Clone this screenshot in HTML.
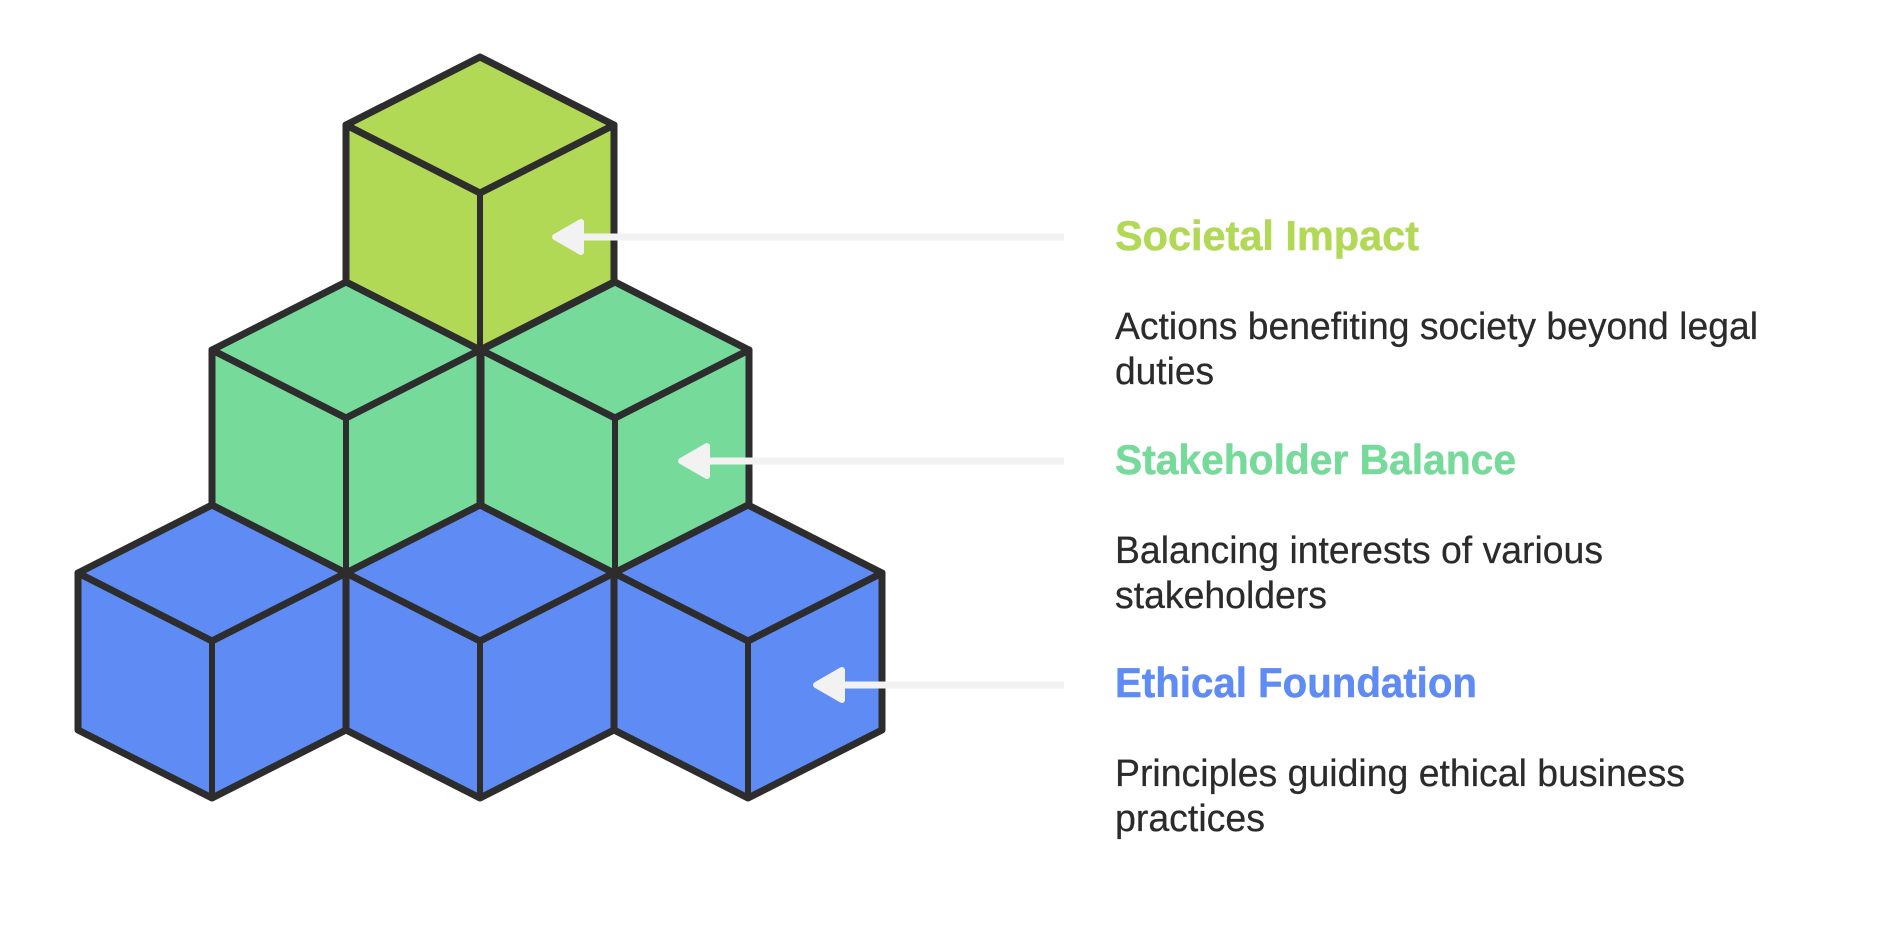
<!DOCTYPE html>
<html>
<head>
<meta charset="utf-8">
<style>
html,body{margin:0;padding:0;background:#fff;width:1902px;height:946px;overflow:hidden}
svg{display:block}
.h{font-family:"Liberation Sans",sans-serif;font-weight:700;font-size:42px;stroke-width:.5px}
.b{font-family:"Liberation Sans",sans-serif;font-weight:400;font-size:38px;fill:#2b2b2b;stroke:#2b2b2b;stroke-width:.25px}
.c{stroke:#2d2d2d;stroke-width:7;stroke-linejoin:round;stroke-linecap:round}
.v{stroke-width:6}
.a{fill:#f2f2f2;stroke:#f2f2f2;stroke-width:6;stroke-linejoin:round}
</style>
</head>
<body>
<svg width="1902" height="946" viewBox="0 0 1902 946" xmlns="http://www.w3.org/2000/svg">
<defs>
<g id="cube">
<path d="M0 0L134 68V225L0 293L-134 225V68Z"/>
<path d="M-134 68L0 136L134 68" fill="none"/>
<path class="v" d="M0 136V293" fill="none"/>
</g>
</defs>
<rect width="1902" height="946" fill="#fff"/>

<g class="c" fill="#b1d955"><use href="#cube" x="480" y="57"/></g>
<g class="c" fill="#75da9a">
<use href="#cube" x="346" y="282"/>
<use href="#cube" x="615" y="282"/>
</g>
<g class="c" fill="#5e8cf4">
<use href="#cube" x="212" y="505"/>
<use href="#cube" x="480" y="505"/>
<use href="#cube" x="748" y="505"/>
</g>

<g>
<rect x="575" y="233.5" width="489" height="7" fill="#f2f2f2"/>
<polygon class="a" points="555,237 581,222 581,252"/>
<rect x="700" y="457.5" width="364" height="7" fill="#f2f2f2"/>
<polygon class="a" points="681,461 707,446 707,476"/>
<rect x="835" y="681.5" width="229" height="7" fill="#f2f2f2"/>
<polygon class="a" points="816,685 842,670 842,700"/>
</g>

<text class="h" x="1115" y="250" fill="#b1d955" stroke="#b1d955" textLength="304" lengthAdjust="spacingAndGlyphs">Societal Impact</text>
<text class="b" x="1115" y="339" textLength="643" lengthAdjust="spacingAndGlyphs">Actions benefiting society beyond legal</text>
<text class="b" x="1115" y="384" textLength="99" lengthAdjust="spacingAndGlyphs">duties</text>

<text class="h" x="1115" y="474" fill="#75da9a" stroke="#75da9a" textLength="401" lengthAdjust="spacingAndGlyphs">Stakeholder Balance</text>
<text class="b" x="1115" y="563" textLength="488" lengthAdjust="spacingAndGlyphs">Balancing interests of various</text>
<text class="b" x="1115" y="608" textLength="212" lengthAdjust="spacingAndGlyphs">stakeholders</text>

<text class="h" x="1115" y="697" fill="#5e8cf4" stroke="#5e8cf4" textLength="362" lengthAdjust="spacingAndGlyphs">Ethical Foundation</text>
<text class="b" x="1115" y="786" textLength="570" lengthAdjust="spacingAndGlyphs">Principles guiding ethical business</text>
<text class="b" x="1115" y="831" textLength="150" lengthAdjust="spacingAndGlyphs">practices</text>
</svg>
</body>
</html>
